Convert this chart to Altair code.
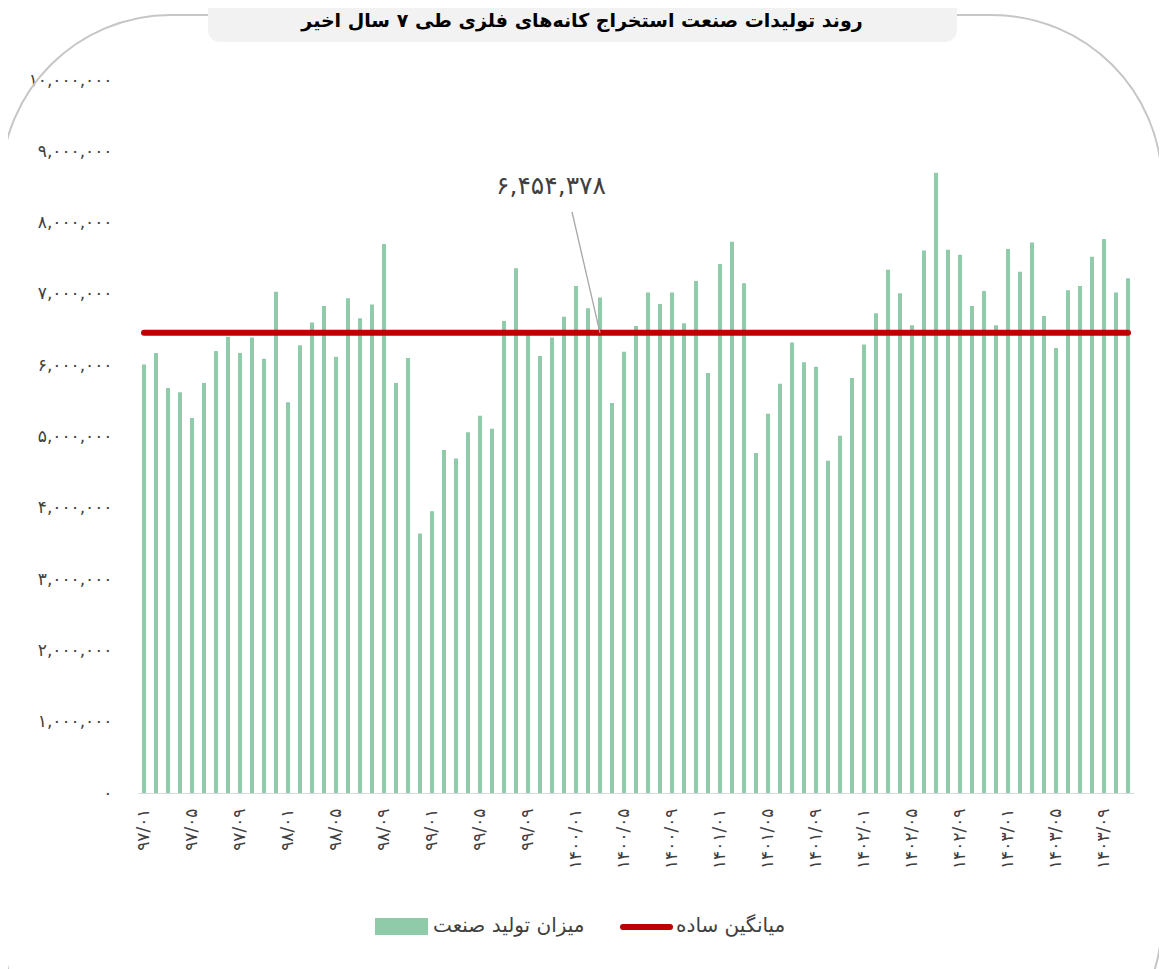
import altair as alt
import pandas as pd

FA = "۰۱۲۳۴۵۶۷۸۹"


def fa(s):
    return "".join(FA[int(c)] if c.isdigit() else c for c in str(s))


# ---- data -------------------------------------------------------------
years = ["97", "98", "99", "1400", "1401", "1402", "1403"]
months_per_year = [12, 12, 12, 12, 12, 12, 11]
months = [fa(f"{y}/{m:02d}") for y, n in zip(years, months_per_year) for m in range(1, n + 1)]

production = [
    6010000, 6170000, 5680000, 5620000, 5260000, 5750000, 6200000, 6400000, 6170000, 6390000,
    6090000, 7030000, 5480000, 6280000, 6600000, 6830000, 6120000, 6940000, 6660000, 6850000,
    7700000, 5750000, 6100000, 3640000, 3950000, 4810000, 4690000, 5060000, 5290000, 5110000,
    6620000, 7360000, 6490000, 6130000, 6390000, 6680000, 7110000, 6800000, 6950000, 5470000,
    6190000, 6550000, 7020000, 6860000, 7020000, 6590000, 7180000, 5890000, 7420000, 7730000,
    7150000, 4770000, 5320000, 5740000, 6320000, 6040000, 5980000, 4660000, 5010000, 5820000,
    6290000, 6730000, 7340000, 7010000, 6560000, 7610000, 8700000, 7620000, 7550000, 6830000,
    7040000, 6560000, 7630000, 7310000, 7720000, 6690000, 6240000, 7050000, 7110000, 7520000,
    7770000, 7020000, 7220000,
]
mean_value = 6454378
mean_label = "۶,۴۵۴,۳۷۸"
annot_month = months[38]
annot_text_level = 8513000
annot_line_top = 8149000

title_text = "روند تولیدات صنعت استخراج کانه‌های فلزی طی ۷ سال اخیر"
legend_bar = "میزان تولید صنعت"
legend_line = "میانگین ساده"

df = pd.DataFrame({"month": months, "value": production, "mean": [mean_value] * len(months)})

FONT = "DejaVu Sans"
GREEN = "#8FCAA9"
RED = "#C00000"

label_expr = "format(datum.value, ',')"
for i, d in enumerate(FA):
    label_expr = f"replace({label_expr}, regexp('{i}', 'g'), '{d}')"

x_enc = alt.X(
    "month:N",
    sort=None,
    scale=alt.Scale(paddingInner=0.67, paddingOuter=0.335),
    axis=alt.Axis(
        values=months[::4],
        labelAngle=-90,
        labelFontSize=17,
        labelColor="#404040",
        labelFont=FONT,
        labelPadding=15,
        ticks=False,
        domainColor="#D9D9D9",
        domainWidth=1,
        grid=False,
        title=None,
    ),
)
y_scale = alt.Scale(domain=[0, 10000000], nice=False)

base = alt.Chart(df)

bars = base.mark_bar(color=GREEN).encode(
    x=x_enc,
    y=alt.Y(
        "value:Q",
        scale=y_scale,
        axis=alt.Axis(
            values=list(range(0, 10000001, 1000000)),
            labelExpr=label_expr,
            labelFontSize=17,
            labelColor="#404040",
            labelFont=FONT,
            labelPadding=26,
            ticks=False,
            domain=False,
            grid=False,
            title=None,
        ),
    ),
)

mean_line = base.mark_line(color=RED, strokeWidth=6, strokeCap="round").encode(
    x=alt.X("month:N", sort=None), y=alt.Y("mean:Q", scale=y_scale)
)

annot_df = pd.DataFrame({
    "month": [annot_month], "level": [annot_text_level], "top": [annot_line_top],
    "mean": [mean_value], "label": [mean_label],
})
annot_text = alt.Chart(annot_df).mark_text(
    fontSize=25, color="#404040", font=FONT, dx=-49
).encode(x=alt.X("month:N", sort=None), y=alt.Y("level:Q", scale=y_scale), text="label:N")
annot_rule = alt.Chart(annot_df).mark_rule(color="#A6A6A6", strokeWidth=1.3, xOffset=-28).encode(
    x=alt.X("month:N", sort=None), x2="month:N", y=alt.Y("top:Q", scale=y_scale), y2="mean:Q"
)

one = pd.DataFrame({"t": [title_text]})
border = alt.Chart(one).mark_rect(
    fill="transparent", stroke="#C6C6C6", strokeWidth=2, cornerRadius=170
).encode(x=alt.value(-137), x2=alt.value(1024), y=alt.value(-65), y2=alt.value(1010))
title_box = alt.Chart(one).mark_rect(fill="#F2F2F2", cornerRadius=12).encode(
    x=alt.value(70), x2=alt.value(819), y=alt.value(-90), y2=alt.value(-38)
)
title = alt.Chart(one).mark_text(
    fontSize=19, fontWeight="bold", color="#000000", font=FONT, baseline="middle"
).encode(x=alt.value(444), y=alt.value(-59), text="t:N")

leg_df = pd.DataFrame({"a": [legend_bar], "b": [legend_line]})
leg_rect = alt.Chart(leg_df).mark_rect(color=GREEN).encode(
    x=alt.value(237), x2=alt.value(290), y=alt.value(838), y2=alt.value(855)
)
leg_text1 = alt.Chart(leg_df).mark_text(
    fontSize=20, color="#404040", font=FONT, align="left", baseline="middle"
).encode(x=alt.value(295), y=alt.value(846), text="a:N")
leg_line = alt.Chart(leg_df).mark_rule(color=RED, strokeWidth=6, strokeCap="round").encode(
    x=alt.value(485), x2=alt.value(532), y=alt.value(847)
)
leg_text2 = alt.Chart(leg_df).mark_text(
    fontSize=20, color="#404040", font=FONT, align="left", baseline="middle"
).encode(x=alt.value(538), y=alt.value(846), text="b:N")

chart = alt.layer(
    border, title_box, title, bars, mean_line, annot_rule, annot_text,
    leg_rect, leg_text1, leg_line, leg_text2,
).properties(
    width=996,
    height=713,
    autosize=alt.AutoSizeParams(type="none"),
    padding={"left": 130, "top": 72, "right": 25, "bottom": 176},
    background="white",
).configure_view(stroke=None)

chart.save("out.html", embed_options={"renderer": "svg", "actions": False})
